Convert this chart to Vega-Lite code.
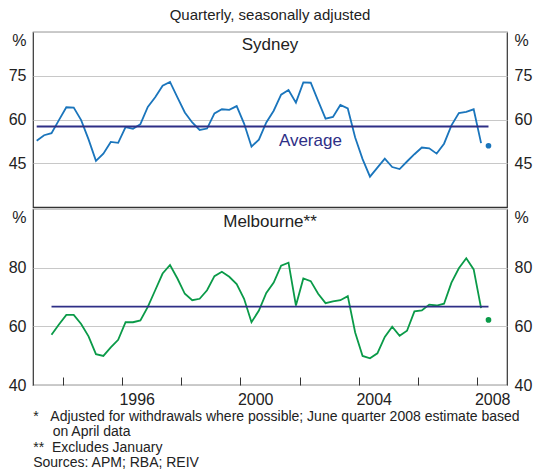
{
  "$schema": "https://vega.github.io/schema/vega-lite/v6.json",
  "padding": {"left": 7, "top": 8, "right": 3, "bottom": 0},
  "title": {"text": "Quarterly, seasonally adjusted", "fontSize": 15, "fontWeight": "normal", "font": "Liberation Sans", "color": "#222", "anchor": "middle", "offset": 8},
  "datasets": {
    "syd": [
      {"t": 1993.125, "v": 52.7}, {"t": 1993.375, "v": 54.6}, {"t": 1993.625, "v": 55.3}, {"t": 1993.875, "v": 59.8},
      {"t": 1994.125, "v": 64.2}, {"t": 1994.375, "v": 64.1}, {"t": 1994.625, "v": 59.8}, {"t": 1994.875, "v": 53.2},
      {"t": 1995.125, "v": 45.8}, {"t": 1995.375, "v": 48.3}, {"t": 1995.625, "v": 52.3}, {"t": 1995.875, "v": 52.0},
      {"t": 1996.125, "v": 57.4}, {"t": 1996.375, "v": 56.8}, {"t": 1996.625, "v": 58.4}, {"t": 1996.875, "v": 64.3},
      {"t": 1997.125, "v": 67.6}, {"t": 1997.375, "v": 71.6}, {"t": 1997.625, "v": 72.9}, {"t": 1997.875, "v": 67.6},
      {"t": 1998.125, "v": 62.4}, {"t": 1998.375, "v": 59.0}, {"t": 1998.625, "v": 56.4}, {"t": 1998.875, "v": 56.9},
      {"t": 1999.125, "v": 62.1}, {"t": 1999.375, "v": 63.5}, {"t": 1999.625, "v": 63.3}, {"t": 1999.875, "v": 64.6},
      {"t": 2000.125, "v": 58.6}, {"t": 2000.375, "v": 50.7}, {"t": 2000.625, "v": 53.1}, {"t": 2000.875, "v": 59.0},
      {"t": 2001.125, "v": 63.0}, {"t": 2001.375, "v": 68.5}, {"t": 2001.625, "v": 70.1}, {"t": 2001.875, "v": 65.8},
      {"t": 2002.125, "v": 72.7}, {"t": 2002.375, "v": 72.6}, {"t": 2002.625, "v": 66.4}, {"t": 2002.875, "v": 60.3},
      {"t": 2003.125, "v": 60.9}, {"t": 2003.375, "v": 65.0}, {"t": 2003.625, "v": 63.8}, {"t": 2003.875, "v": 53.8},
      {"t": 2004.125, "v": 46.4}, {"t": 2004.375, "v": 40.4}, {"t": 2004.625, "v": 43.5}, {"t": 2004.875, "v": 46.6},
      {"t": 2005.125, "v": 43.7}, {"t": 2005.375, "v": 43.0}, {"t": 2005.625, "v": 45.6}, {"t": 2005.875, "v": 48.1},
      {"t": 2006.125, "v": 50.4}, {"t": 2006.375, "v": 50.1}, {"t": 2006.625, "v": 48.3}, {"t": 2006.875, "v": 51.7},
      {"t": 2007.125, "v": 58.0}, {"t": 2007.375, "v": 62.2}, {"t": 2007.625, "v": 62.6}, {"t": 2007.875, "v": 63.5},
      {"t": 2008.125, "v": 51.9}
    ],
    "sydEst": [{"t": 2008.375, "v": 51.0}],
    "sydAvg": [{"t0": 1993.125, "t1": 2008.375, "v": 57.6}],
    "mel": [
      {"t": 1993.625, "v": 57.1}, {"t": 1993.875, "v": 60.6},
      {"t": 1994.125, "v": 63.9}, {"t": 1994.375, "v": 63.9}, {"t": 1994.625, "v": 60.8}, {"t": 1994.875, "v": 56.6},
      {"t": 1995.125, "v": 50.5}, {"t": 1995.375, "v": 49.9}, {"t": 1995.625, "v": 52.8}, {"t": 1995.875, "v": 55.4},
      {"t": 1996.125, "v": 61.4}, {"t": 1996.375, "v": 61.4}, {"t": 1996.625, "v": 62.0}, {"t": 1996.875, "v": 66.6},
      {"t": 1997.125, "v": 72.3}, {"t": 1997.375, "v": 78.0}, {"t": 1997.625, "v": 80.9}, {"t": 1997.875, "v": 76.3},
      {"t": 1998.125, "v": 71.1}, {"t": 1998.375, "v": 68.9}, {"t": 1998.625, "v": 69.4}, {"t": 1998.875, "v": 72.3},
      {"t": 1999.125, "v": 77.1}, {"t": 1999.375, "v": 78.6}, {"t": 1999.625, "v": 76.9}, {"t": 1999.875, "v": 74.4},
      {"t": 2000.125, "v": 69.4}, {"t": 2000.375, "v": 61.4}, {"t": 2000.625, "v": 65.4}, {"t": 2000.875, "v": 71.4},
      {"t": 2001.125, "v": 74.9}, {"t": 2001.375, "v": 80.7}, {"t": 2001.625, "v": 81.7}, {"t": 2001.875, "v": 67.1},
      {"t": 2002.125, "v": 76.3}, {"t": 2002.375, "v": 75.4}, {"t": 2002.625, "v": 71.1}, {"t": 2002.875, "v": 67.9},
      {"t": 2003.125, "v": 68.5}, {"t": 2003.375, "v": 68.9}, {"t": 2003.625, "v": 70.3}, {"t": 2003.875, "v": 57.9},
      {"t": 2004.125, "v": 49.9}, {"t": 2004.375, "v": 49.1}, {"t": 2004.625, "v": 50.8}, {"t": 2004.875, "v": 56.4},
      {"t": 2005.125, "v": 59.9}, {"t": 2005.375, "v": 56.8}, {"t": 2005.625, "v": 58.5}, {"t": 2005.875, "v": 65.1},
      {"t": 2006.125, "v": 65.4}, {"t": 2006.375, "v": 67.4}, {"t": 2006.625, "v": 67.1}, {"t": 2006.875, "v": 67.7},
      {"t": 2007.125, "v": 74.9}, {"t": 2007.375, "v": 79.8}, {"t": 2007.625, "v": 83.2}, {"t": 2007.875, "v": 79.4},
      {"t": 2008.125, "v": 66.2}
    ],
    "melEst": [{"t": 2008.375, "v": 62.2}],
    "melAvg": [{"t0": 1993.625, "t1": 2008.375, "v": 66.7}]
  },
  "spacing": 0,
  "vconcat": [
    {
      "width": 474,
      "height": 175,
      "layer": [
        {
          "data": {"name": "syd"},
          "mark": {"type": "line", "color": "#1a75bc", "strokeWidth": 1.8},
          "encoding": {
            "x": {"field": "t", "type": "quantitative", "scale": {"domain": [1993, 2009], "nice": false, "zero": false}, "axis": null},
            "y": {"field": "v", "type": "quantitative", "scale": {"domain": [30, 90], "nice": false, "zero": false},
              "axis": {"orient": "left", "title": null, "values": [45, 60, 75, 90], "grid": true, "labelExpr": "datum.value == 90 ? '%' : datum.label",
                "labelBaseline": {"condition": {"test": "datum.value >= 90", "value": "top"}, "value": "middle"}}}
          }
        },
        {
          "data": {"name": "sydAvg"},
          "mark": {"type": "rule", "color": "#2e2f86", "strokeWidth": 1.8},
          "encoding": {
            "x": {"field": "t0", "type": "quantitative"},
            "x2": {"field": "t1"},
            "y": {"field": "v", "type": "quantitative",
              "axis": {"orient": "right", "title": null, "values": [45, 60, 75, 90], "grid": false, "labelExpr": "datum.value == 90 ? '%' : datum.label",
                "labelBaseline": {"condition": {"test": "datum.value >= 90", "value": "top"}, "value": "middle"}}}
          }
        },
        {
          "data": {"name": "sydEst"},
          "mark": {"type": "point", "filled": true, "color": "#1a75bc", "size": 32, "opacity": 1},
          "encoding": {
            "x": {"field": "t", "type": "quantitative"},
            "y": {"field": "v", "type": "quantitative", "axis": null}
          }
        },
        {
          "data": {"values": [{"label": "Average", "t": 2001.3, "v": 52.7}]},
          "mark": {"type": "text", "fontSize": 17, "baseline": "middle", "align": "left", "color": "#2e2f86"},
          "encoding": {
            "x": {"field": "t", "type": "quantitative"},
            "y": {"field": "v", "type": "quantitative", "axis": null},
            "text": {"field": "label"}
          }
        },
        {
          "data": {"values": [{"label": "Sydney", "t": 2001.0, "v": 85.6}]},
          "mark": {"type": "text", "fontSize": 17, "baseline": "middle", "align": "center", "color": "#222"},
          "encoding": {
            "x": {"field": "t", "type": "quantitative"},
            "y": {"field": "v", "type": "quantitative", "axis": null},
            "text": {"field": "label"}
          }
        }
      ],
      "resolve": {"axis": {"y": "independent"}}
    },
    {
      "width": 474,
      "height": 176,
      "title": {
        "text": [
          "*\u00a0\u00a0\u00a0Adjusted for withdrawals where possible; June quarter 2008 estimate based",
          "\u200b\u00a0\u00a0\u00a0\u00a0\u00a0on April data",
          "**\u00a0\u00a0Excludes January",
          "Sources: APM; RBA; REIV"
        ],
        "orient": "bottom", "anchor": "start", "align": "left", "fontSize": 14, "fontWeight": "normal",
        "font": "Liberation Sans", "color": "#222", "lineHeight": 15.4, "offset": 3, "dx": 25
      },
      "layer": [
        {
          "data": {"name": "mel"},
          "mark": {"type": "line", "color": "#0a9a48", "strokeWidth": 1.8},
          "encoding": {
            "x": {"field": "t", "type": "quantitative", "scale": {"domain": [1993, 2009], "nice": false, "zero": false},
              "axis": {"title": null, "values": [1994, 1995, 1996, 1997, 1998, 1999, 2000, 2001, 2002, 2003, 2004, 2005, 2006, 2007, 2008],
                "ticks": true, "tickSize": -8, "tickColor": "#333", "tickWidth": 1, "domain": false, "grid": false,
                "labelExpr": "datum.value % 4 == 0 ? '' + datum.value : ''", "labelOffset": 14.8, "labelPadding": 14,
                "labelOverlap": false, "labelBound": false, "labelFlush": false}},
            "y": {"field": "v", "type": "quantitative", "scale": {"domain": [40, 100], "nice": false, "zero": false},
              "axis": {"orient": "left", "title": null, "values": [40, 60, 80, 100], "grid": true, "labelExpr": "datum.value == 100 ? '%' : datum.label",
                "labelBaseline": {"condition": {"test": "datum.value >= 100", "value": "top"}, "value": "middle"}}}
          }
        },
        {
          "data": {"name": "melAvg"},
          "mark": {"type": "rule", "color": "#2e2f86", "strokeWidth": 1.8},
          "encoding": {
            "x": {"field": "t0", "type": "quantitative"},
            "x2": {"field": "t1"},
            "y": {"field": "v", "type": "quantitative",
              "axis": {"orient": "right", "title": null, "values": [40, 60, 80, 100], "grid": false, "labelExpr": "datum.value == 100 ? '%' : datum.label",
                "labelBaseline": {"condition": {"test": "datum.value >= 100", "value": "top"}, "value": "middle"}}}
          }
        },
        {
          "data": {"name": "melEst"},
          "mark": {"type": "point", "filled": true, "color": "#0a9a48", "size": 32, "opacity": 1},
          "encoding": {
            "x": {"field": "t", "type": "quantitative"},
            "y": {"field": "v", "type": "quantitative", "axis": null}
          }
        },
        {
          "data": {"values": [{"label": "Melbourne**", "t": 2001.0, "v": 95.6}]},
          "mark": {"type": "text", "fontSize": 17, "baseline": "middle", "align": "center", "color": "#222"},
          "encoding": {
            "x": {"field": "t", "type": "quantitative"},
            "y": {"field": "v", "type": "quantitative", "axis": null},
            "text": {"field": "label"}
          }
        }
      ],
      "resolve": {"axis": {"y": "independent"}}
    }
  ],
  "config": {
    "font": "Liberation Sans",
    "view": {"stroke": "#333", "strokeWidth": 1.2},
    "axis": {
      "labelFont": "Liberation Sans", "labelFontSize": 16, "labelColor": "#222",
      "domain": false, "ticks": false, "labelPadding": 7,
      "gridColor": "#c8c8c8", "gridWidth": 1
    },
    "text": {"font": "Liberation Sans"}
  }
}
